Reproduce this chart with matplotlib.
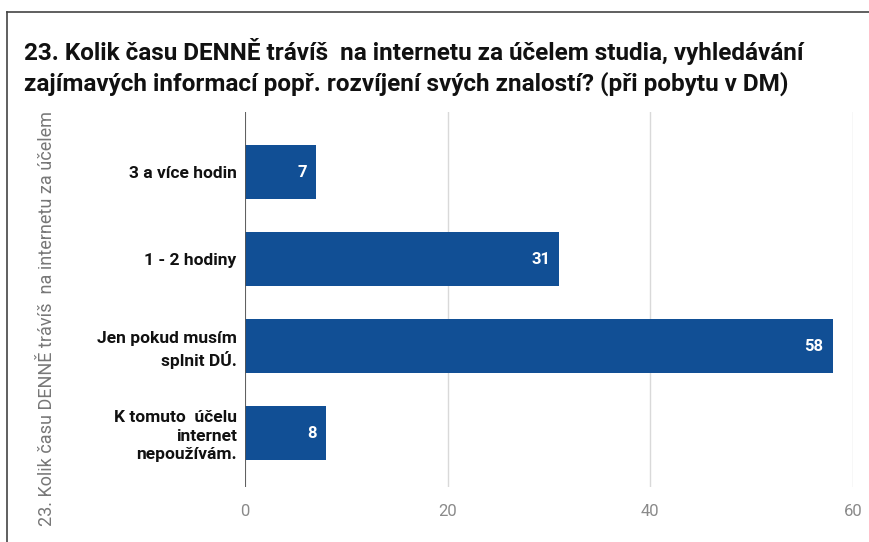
import matplotlib.pyplot as plt
from matplotlib.lines import Line2D

# data
categories = ['3 a více hodin', '1 - 2 hodiny', 'Jen pokud musím\nsplnit DÚ.',
              'K tomuto  účelu\ninternet\nnepoužívám.']
values = [7, 31, 58, 8]
xticks = [0, 20, 40, 60]

title = ('23. Kolik času DENNĚ trávíš  na internetu za účelem studia, vyhledávání\n'
         'zajímavých informací popř. rozvíjení svých znalostí? (při pobytu v DM)')
ylabel = '23. Kolik času DENNĚ trávíš  na internetu za účelem'

plt.rcParams['font.family'] = ['Roboto', 'DejaVu Sans']

W, H = 869, 542
fig = plt.figure(figsize=(W / 100, H / 100), dpi=100)
ax = fig.add_axes([245 / W, 1 - 487 / H, (853 - 245) / W, (487 - 112) / H])

bar_color = '#114f95'
ypos = list(range(len(categories)))
ax.barh(ypos, values, height=0.63, color=bar_color, zorder=3)
for y, v in zip(ypos, values):
    ax.text(v - 0.9, y, str(v), color='white', fontweight='bold', fontsize=12,
            ha='right', va='center', zorder=4)

ax.set_xlim(0, 60)
ax.set_ylim(3.62, -0.69)
ax.set_xticks(xticks)
ax.set_xticklabels([str(t) for t in xticks], color='#8a8a8a', fontsize=12)
ax.set_yticks(ypos)
ax.set_yticklabels(categories, fontweight='bold', fontsize=12.5, color='#111111',
                   linespacing=1.3)
ax.tick_params(axis='y', length=0, pad=6)
ax.tick_params(axis='x', length=0, pad=12)
for lbl in ax.get_yticklabels():
    lbl.set_multialignment('right')

for s in ax.spines.values():
    s.set_visible(False)
ax.grid(axis='x', color='#d9d9d9', linewidth=1, zorder=0)
ax.axvline(0, color='#555555', linewidth=1.3, zorder=5)

fig.text(47 / W, 1 - 318 / H, ylabel, rotation=90, color='#777777', fontsize=13,
         ha='center', va='center')
fig.text(24 / W, 1 - 67 / H, title, fontsize=17.5, fontweight='bold',
         color='#111111', ha='left', va='center', linespacing=1.3)

# frame lines of the screenshot
fig.add_artist(Line2D([7 / W, 1], [1 - 12 / H, 1 - 12 / H], color='#444444', linewidth=1.2))
fig.add_artist(Line2D([7 / W, 7 / W], [0, 1 - 12 / H], color='#444444', linewidth=1.2))

fig.savefig('out.png', dpi=100)
